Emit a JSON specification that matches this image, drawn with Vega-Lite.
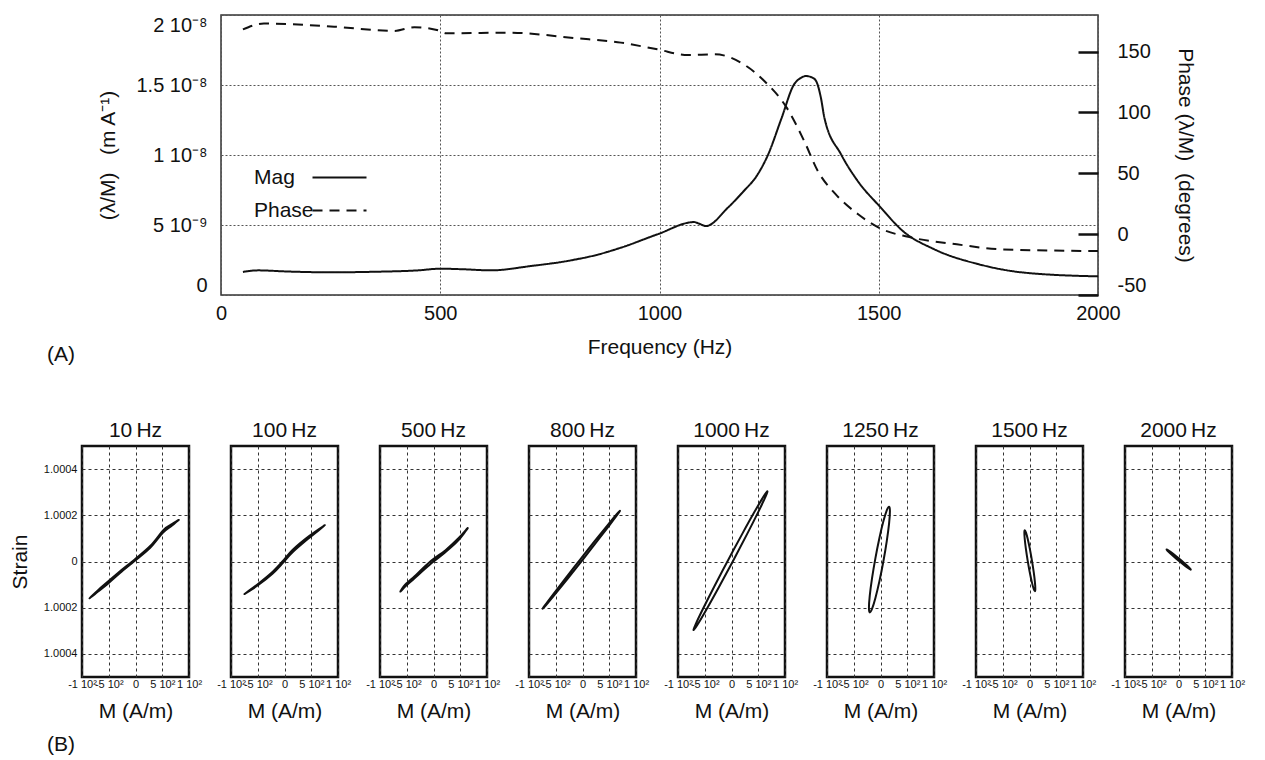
{
  "$schema": "https://vega.github.io/schema/vega-lite/v6.json",
  "background": "white",
  "padding": {"left": 9, "top": 14, "right": 5, "bottom": 5},
  "config": {
    "font": "Liberation Sans",
    "axis": {"labelFont": "Liberation Sans", "titleFont": "Liberation Sans", "labelColor": "#111", "titleColor": "#111", "titleFontWeight": "normal", "domain": false, "ticks": false},
    "title": {"font": "Liberation Sans", "fontWeight": "normal", "color": "#111", "fontSize": 21},
    "header": {"labelFont": "Liberation Sans", "labelColor": "#111"},
    "legend": {"labelFont": "Liberation Sans", "labelColor": "#111"}
  },
  "datasets": {
    "mag": [
      {"f":50,"mag":1.65e-9},{"f":85,"mag":1.76e-9},{"f":150,"mag":1.68e-9},{"f":250,"mag":1.62e-9},{"f":350,"mag":1.66e-9},{"f":450,"mag":1.76e-9},{"f":500,"mag":1.88e-9},{"f":550,"mag":1.84e-9},{"f":615,"mag":1.76e-9},{"f":707,"mag":2.07e-9},{"f":790,"mag":2.43e-9},{"f":861,"mag":2.9e-9},{"f":912,"mag":3.38e-9},{"f":995,"mag":4.33e-9},{"f":1079,"mag":5.21e-9},{"f":1090,"mag":5.1e-9},{"f":1106,"mag":4.93e-9},{"f":1156,"mag":6.24e-9},{"f":1190,"mag":7.35e-9},{"f":1224,"mag":8.62e-9},{"f":1247,"mag":9.98e-9},{"f":1278,"mag":1.26e-8},{"f":1307,"mag":1.505e-8},{"f":1322,"mag":1.55e-8},{"f":1334,"mag":1.564e-8},{"f":1347,"mag":1.555e-8},{"f":1357,"mag":1.529e-8},{"f":1368,"mag":1.41e-8},{"f":1376,"mag":1.267e-8},{"f":1414,"mag":1.005e-8},{"f":1453,"mag":8.1e-9},{"f":1503,"mag":6.3e-9},{"f":1555,"mag":4.57e-9},{"f":1627,"mag":3.26e-9},{"f":1729,"mag":2.19e-9},{"f":1831,"mag":1.6e-9},{"f":2000,"mag":1.33e-9}
    ],
    "phase": [
      {"f":50,"phase":168.2},{"f":98,"phase":173},{"f":258,"phase":170.4},{"f":395,"phase":166.9},{"f":441,"phase":170},{"f":500,"phase":166.9},{"f":513,"phase":165},{"f":656,"phase":165.5},{"f":810,"phase":160.9},{"f":912,"phase":157.3},{"f":995,"phase":151.8},{"f":1065,"phase":147.1},{"f":1126,"phase":147.7},{"f":1198,"phase":138.1},{"f":1239,"phase":125.8},{"f":1290,"phase":103.9},{"f":1330,"phase":76.5},{"f":1361,"phase":51.9},{"f":1402,"phase":32.7},{"f":1453,"phase":16.3},{"f":1500,"phase":5.3},{"f":1576,"phase":-2.9},{"f":1678,"phase":-8.4},{"f":1780,"phase":-12.5},{"f":2000,"phase":-13.9}
    ],
    "loops": [
      {"freq":"10\u2009Hz","t":0,"m":-86,"s":-1.59e-4},{"freq":"10\u2009Hz","t":1,"m":-70,"s":-1.30e-4},{"freq":"10\u2009Hz","t":2,"m":-51,"s":-0.95e-4},{"freq":"10\u2009Hz","t":3,"m":-29,"s":-0.50e-4},{"freq":"10\u2009Hz","t":4,"m":-3,"s":0},{"freq":"10\u2009Hz","t":5,"m":27,"s":0.58e-4},{"freq":"10\u2009Hz","t":6,"m":51,"s":1.24e-4},{"freq":"10\u2009Hz","t":7,"m":66,"s":1.52e-4},{"freq":"10\u2009Hz","t":8,"m":81,"s":1.80e-4},{"freq":"10\u2009Hz","t":9,"m":68,"s":1.62e-4},{"freq":"10\u2009Hz","t":10,"m":53,"s":1.38e-4},{"freq":"10\u2009Hz","t":11,"m":28,"s":0.68e-4},{"freq":"10\u2009Hz","t":12,"m":-2,"s":0.08e-4},{"freq":"10\u2009Hz","t":13,"m":-30,"s":-0.44e-4},{"freq":"10\u2009Hz","t":14,"m":-52,"s":-0.88e-4},{"freq":"10\u2009Hz","t":15,"m":-70,"s":-1.24e-4},
      {"freq":"100\u2009Hz","t":0,"m":-75,"s":-1.41e-4},{"freq":"100\u2009Hz","t":1,"m":-49,"s":-1.02e-4},{"freq":"100\u2009Hz","t":2,"m":-22,"s":-0.52e-4},{"freq":"100\u2009Hz","t":3,"m":-3,"s":-0.06e-4},{"freq":"100\u2009Hz","t":4,"m":15,"s":0.40e-4},{"freq":"100\u2009Hz","t":5,"m":46,"s":1.02e-4},{"freq":"100\u2009Hz","t":6,"m":75.5,"s":1.57e-4},{"freq":"100\u2009Hz","t":7,"m":46,"s":1.10e-4},{"freq":"100\u2009Hz","t":8,"m":15,"s":0.50e-4},{"freq":"100\u2009Hz","t":9,"m":-3,"s":0.02e-4},{"freq":"100\u2009Hz","t":10,"m":-22,"s":-0.44e-4},{"freq":"100\u2009Hz","t":11,"m":-49,"s":-0.96e-4},
      {"freq":"500\u2009Hz","t":0,"m":-62,"s":-1.30e-4},{"freq":"500\u2009Hz","t":1,"m":-52,"s":-1.06e-4},{"freq":"500\u2009Hz","t":2,"m":-40,"s":-0.82e-4},{"freq":"500\u2009Hz","t":3,"m":-4,"s":-0.08e-4},{"freq":"500\u2009Hz","t":4,"m":21,"s":0.38e-4},{"freq":"500\u2009Hz","t":5,"m":45,"s":0.88e-4},{"freq":"500\u2009Hz","t":6,"m":64,"s":1.45e-4},{"freq":"500\u2009Hz","t":7,"m":48,"s":1.04e-4},{"freq":"500\u2009Hz","t":8,"m":22,"s":0.48e-4},{"freq":"500\u2009Hz","t":9,"m":-5,"s":0.02e-4},{"freq":"500\u2009Hz","t":10,"m":-40,"s":-0.74e-4},{"freq":"500\u2009Hz","t":11,"m":-53,"s":-1.00e-4},
      {"freq":"800\u2009Hz","t":0,"m":70,"s":2.2e-4},{"freq":"800\u2009Hz","t":1,"m":65.46,"s":2.038e-4},{"freq":"800\u2009Hz","t":2,"m":50.61,"s":1.578e-4},{"freq":"800\u2009Hz","t":3,"m":27.71,"s":0.888e-4},{"freq":"800\u2009Hz","t":4,"m":0.25,"s":0.075e-4},{"freq":"800\u2009Hz","t":5,"m":-27.59,"s":-0.738e-4},{"freq":"800\u2009Hz","t":6,"m":-51.57,"s":-1.428e-4},{"freq":"800\u2009Hz","t":7,"m":-68.04,"s":-1.888e-4},{"freq":"800\u2009Hz","t":8,"m":-74.5,"s":-2.05e-4},{"freq":"800\u2009Hz","t":9,"m":-69.96,"s":-1.888e-4},{"freq":"800\u2009Hz","t":10,"m":-55.11,"s":-1.428e-4},{"freq":"800\u2009Hz","t":11,"m":-32.21,"s":-0.738e-4},{"freq":"800\u2009Hz","t":12,"m":-4.75,"s":0.075e-4},{"freq":"800\u2009Hz","t":13,"m":23.09,"s":0.888e-4},{"freq":"800\u2009Hz","t":14,"m":47.07,"s":1.578e-4},{"freq":"800\u2009Hz","t":15,"m":63.54,"s":2.038e-4},
      {"freq":"1000\u2009Hz","t":0,"m":67,"s":3.04e-4},{"freq":"1000\u2009Hz","t":1,"m":63.67,"s":2.811e-4},{"freq":"1000\u2009Hz","t":2,"m":50.36,"s":2.16e-4},{"freq":"1000\u2009Hz","t":3,"m":29.09,"s":1.185e-4},{"freq":"1000\u2009Hz","t":4,"m":3.1,"s":0.035e-4},{"freq":"1000\u2009Hz","t":5,"m":-23.65,"s":-1.115e-4},{"freq":"1000\u2009Hz","t":6,"m":-47.08,"s":-2.09e-4},{"freq":"1000\u2009Hz","t":7,"m":-63.65,"s":-2.741e-4},{"freq":"1000\u2009Hz","t":8,"m":-70.8,"s":-2.97e-4},{"freq":"1000\u2009Hz","t":9,"m":-67.47,"s":-2.741e-4},{"freq":"1000\u2009Hz","t":10,"m":-54.16,"s":-2.09e-4},{"freq":"1000\u2009Hz","t":11,"m":-32.89,"s":-1.115e-4},{"freq":"1000\u2009Hz","t":12,"m":-6.9,"s":0.035e-4},{"freq":"1000\u2009Hz","t":13,"m":19.85,"s":1.185e-4},{"freq":"1000\u2009Hz","t":14,"m":43.28,"s":2.16e-4},{"freq":"1000\u2009Hz","t":15,"m":59.85,"s":2.811e-4},
      {"freq":"1250\u2009Hz","t":0,"m":17.6,"s":2.175e-4},{"freq":"1250\u2009Hz","t":1,"m":16.11,"s":2.374e-4},{"freq":"1250\u2009Hz","t":2,"m":11.86,"s":2.224e-4},{"freq":"1250\u2009Hz","t":3,"m":5.5,"s":1.749e-4},{"freq":"1250\u2009Hz","t":4,"m":-2,"s":1.02e-4},{"freq":"1250\u2009Hz","t":5,"m":-9.5,"s":0.149e-4},{"freq":"1250\u2009Hz","t":6,"m":-15.86,"s":-0.732e-4},{"freq":"1250\u2009Hz","t":7,"m":-20.11,"s":-1.488e-4},{"freq":"1250\u2009Hz","t":8,"m":-21.6,"s":-2.005e-4},{"freq":"1250\u2009Hz","t":9,"m":-20.11,"s":-2.204e-4},{"freq":"1250\u2009Hz","t":10,"m":-15.86,"s":-2.054e-4},{"freq":"1250\u2009Hz","t":11,"m":-9.5,"s":-1.579e-4},{"freq":"1250\u2009Hz","t":12,"m":-2,"s":-0.85e-4},{"freq":"1250\u2009Hz","t":13,"m":5.5,"s":0.021e-4},{"freq":"1250\u2009Hz","t":14,"m":11.86,"s":0.902e-4},{"freq":"1250\u2009Hz","t":15,"m":16.11,"s":1.658e-4},
      {"freq":"1500\u2009Hz","t":0,"m":-8.8,"s":1.35e-4},{"freq":"1500\u2009Hz","t":1,"m":-6.55,"s":1.25e-4},{"freq":"1500\u2009Hz","t":2,"m":-3.2,"s":0.963e-4},{"freq":"1500\u2009Hz","t":3,"m":0.73,"s":0.535e-4},{"freq":"1500\u2009Hz","t":4,"m":4.65,"s":0.03e-4},{"freq":"1500\u2009Hz","t":5,"m":7.97,"s":-0.475e-4},{"freq":"1500\u2009Hz","t":6,"m":10.16,"s":-0.903e-4},{"freq":"1500\u2009Hz","t":7,"m":10.91,"s":-1.19e-4},{"freq":"1500\u2009Hz","t":8,"m":10.1,"s":-1.29e-4},{"freq":"1500\u2009Hz","t":9,"m":7.85,"s":-1.19e-4},{"freq":"1500\u2009Hz","t":10,"m":4.5,"s":-0.903e-4},{"freq":"1500\u2009Hz","t":11,"m":0.57,"s":-0.475e-4},{"freq":"1500\u2009Hz","t":12,"m":-3.35,"s":0.03e-4},{"freq":"1500\u2009Hz","t":13,"m":-6.67,"s":0.535e-4},{"freq":"1500\u2009Hz","t":14,"m":-8.86,"s":0.963e-4},{"freq":"1500\u2009Hz","t":15,"m":-9.61,"s":1.25e-4},
      {"freq":"2000\u2009Hz","t":0,"m":-22.3,"s":0.52e-4},{"freq":"2000\u2009Hz","t":1,"m":-20.58,"s":0.506e-4},{"freq":"2000\u2009Hz","t":2,"m":-15.67,"s":0.428e-4},{"freq":"2000\u2009Hz","t":3,"m":-8.32,"s":0.297e-4},{"freq":"2000\u2009Hz","t":4,"m":0.35,"s":0.135e-4},{"freq":"2000\u2009Hz","t":5,"m":9.02,"s":-0.035e-4},{"freq":"2000\u2009Hz","t":6,"m":16.37,"s":-0.188e-4},{"freq":"2000\u2009Hz","t":7,"m":21.28,"s":-0.298e-4},{"freq":"2000\u2009Hz","t":8,"m":23,"s":-0.35e-4},{"freq":"2000\u2009Hz","t":9,"m":21.28,"s":-0.336e-4},{"freq":"2000\u2009Hz","t":10,"m":16.37,"s":-0.258e-4},{"freq":"2000\u2009Hz","t":11,"m":9.02,"s":-0.127e-4},{"freq":"2000\u2009Hz","t":12,"m":0.35,"s":0.035e-4},{"freq":"2000\u2009Hz","t":13,"m":-8.32,"s":0.205e-4},{"freq":"2000\u2009Hz","t":14,"m":-15.67,"s":0.358e-4},{"freq":"2000\u2009Hz","t":15,"m":-20.58,"s":0.468e-4}
    ]
  },
  "spacing": 55,
  "vconcat": [
    {
      "title": {"text": "(A)", "orient": "bottom", "anchor": "start", "frame": "group", "dx": -35, "offset": -14},
      "spacing": 14,
      "hconcat": [
        {
          "width": 1,
          "height": 1,
          "view": {"stroke": null},
          "data": {"values": []},
          "mark": {"type": "point", "opacity": 0}
        },
        {
          "width": 877,
          "height": 280,
          "view": {"stroke": "#333", "strokeWidth": 1.5},
          "layer": [
            {
              "data": {"name": "mag"},
              "mark": {"type": "line", "color": "#111", "strokeWidth": 2, "interpolate": "monotone"},
              "encoding": {
                "x": {"field": "f", "type": "quantitative", "scale": {"domain": [0, 2000]},
                  "axis": {"values": [0, 500, 1000, 1500, 2000], "format": "d", "grid": true, "gridDash": [2, 2], "gridColor": "#555", "gridWidth": 1, "labelFontSize": 20, "labelPadding": 8, "labelFlush": false, "title": "Frequency (Hz)", "titleFontSize": 21, "titlePadding": 13}},
                "y": {"field": "mag", "type": "quantitative", "scale": {"domain": [0, 2e-8]},
                  "axis": {"values": [0, 5e-9, 1e-8, 1.5e-8, 2e-8], "labelExpr": "datum.value < 1e-12 ? '0' : datum.value < 7e-9 ? '5 10⁻⁹' : datum.value < 1.2e-8 ? '1 10⁻⁸' : datum.value < 1.7e-8 ? '1.5 10⁻⁸' : '2 10⁻⁸'", "grid": true, "gridDash": [2, 2], "gridColor": "#555", "gridWidth": 1, "labelFontSize": 20, "labelPadding": 14, "labelFlush": true, "title": "(λ/M)\u00a0\u00a0\u00a0(m A⁻¹)", "titleFontSize": 21, "titlePadding": 17}},
                "strokeDash": {"datum": "Mag", "type": "nominal", "scale": {"domain": ["Mag", "Phase"], "range": [[1, 0], [10, 7]]},
                  "legend": {"orient": "none", "legendX": 247, "legendY": 152, "title": null, "symbolType": "M-3,0H3", "symbolSize": 324, "symbolStrokeWidth": 2, "symbolStrokeColor": "#111", "labelFontSize": 21, "labelAlign": "left", "labelOffset": -96, "rowPadding": 11, "padding": 0}}
              }
            },
            {
              "data": {"name": "phase"},
              "mark": {"type": "line", "color": "#111", "strokeWidth": 2, "interpolate": "monotone"},
              "encoding": {
                "x": {"field": "f", "type": "quantitative"},
                "y": {"field": "phase", "type": "quantitative", "scale": {"domain": [-50, 180]},
                  "axis": {"orient": "right", "values": [-50, 0, 50, 100, 150], "labelExpr": "'' + datum.value", "grid": false, "ticks": true, "tickSize": -20, "tickWidth": 2.5, "tickColor": "#111", "labelPadding": 39, "labelFontSize": 20, "labelBaseline": {"condition": {"test": "datum.value == -50", "value": "bottom"}, "value": "middle"}, "title": "Phase (λ/M)\u00a0\u00a0(degrees)", "titleFontSize": 21, "titlePadding": 24}},
                "strokeDash": {"datum": "Phase", "type": "nominal"}
              }
            }
          ],
          "resolve": {"scale": {"y": "independent"}}
        }
      ]
    },
    {
      "data": {"name": "loops"},
      "title": {"text": "(B)", "orient": "bottom", "anchor": "start", "frame": "group", "dx": -35, "offset": 13},
      "facet": {"column": {"field": "freq", "type": "nominal", "title": null, "sort": ["10\u2009Hz", "100\u2009Hz", "500\u2009Hz", "800\u2009Hz", "1000\u2009Hz", "1250\u2009Hz", "1500\u2009Hz", "2000\u2009Hz"], "header": {"labelFontSize": 21, "labelPadding": 5}}},
      "spacing": 42,
      "bounds": "flush",
      "spec": {
        "width": 107,
        "height": 231,
        "view": {"stroke": "#111", "strokeWidth": 2.5},
        "mark": {"type": "line", "interpolate": "cardinal-closed", "color": "#111", "strokeWidth": 2},
        "encoding": {
          "x": {"field": "m", "type": "quantitative", "scale": {"domain": [-100, 100]},
            "axis": {"values": [-100, -50, 0, 50, 100], "labelExpr": "datum.value == 0 ? '0' : (datum.value < 0 ? '-' : '') + (abs(datum.value) > 75 ? '1' : '5') + ' 10²'", "labelFontSize": 11, "labelPadding": 1, "labelFlush": false, "labelOverlap": false, "grid": true, "gridDash": [3, 3], "gridColor": "#333", "gridWidth": 1, "title": "M (A/m)", "titleFontSize": 21, "titlePadding": 11}},
          "y": {"field": "s", "type": "quantitative", "scale": {"domain": [-5e-4, 5e-4]},
            "axis": {"values": [-4e-4, -2e-4, 0, 2e-4, 4e-4], "labelExpr": "datum.value == 0 ? '0' : (abs(datum.value) > 3e-4 ? '1.0004' : '1.0002')", "labelFontSize": 11, "labelPadding": 5, "grid": true, "gridDash": [3, 3], "gridColor": "#333", "gridWidth": 1, "title": "Strain", "titleFontSize": 21, "titlePadding": 13}},
          "order": {"field": "t", "type": "quantitative"}
        }
      }
    }
  ]
}
